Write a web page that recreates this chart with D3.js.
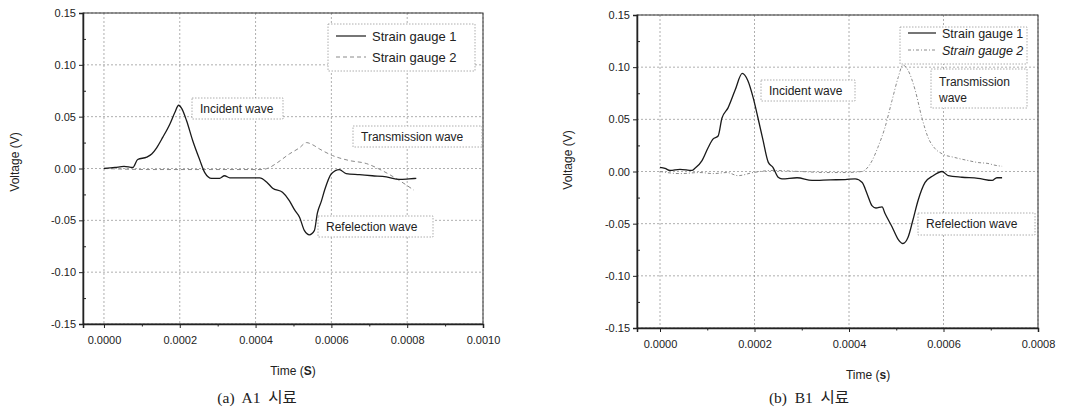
<!DOCTYPE html>
<html>
<head>
<meta charset="utf-8">
<script src="https://cdn.jsdelivr.net/npm/d3@7"></script>
<style>
  html, body { margin: 0; padding: 0; background: #fff; }
  svg { display: block; }
  text { font-family: "Liberation Sans", Arial, sans-serif; fill: #222; }
  .caption { white-space: pre; }
</style>
</head>
<body>
<svg id="chart" width="1090" height="416"></svg>
<script>
// ---------- Data (A1 specimen) ----------
const a1Gauge1Time = [0, 0.000029, 0.000053, 0.000076, 0.000089, 0.000113, 0.000126, 0.000139, 0.000155, 0.000174, 0.000187, 0.000197, 0.000205, 0.000218, 0.000234, 0.000253, 0.000266, 0.000284, 0.000305, 0.000318, 0.000332, 0.000371, 0.000411, 0.000429, 0.000445, 0.000471, 0.000489, 0.000503, 0.000516, 0.000529, 0.000542, 0.000555, 0.000563, 0.000574, 0.000582, 0.000600, 0.000621, 0.000639, 0.000674, 0.000708, 0.000745, 0.000779, 0.000805, 0.000824];
const a1Gauge1Volt = [0.000, 0.001, 0.002, 0.001, 0.0087, 0.011, 0.014, 0.020, 0.030, 0.043, 0.054, 0.061, 0.058, 0.046, 0.027, 0.008, -0.004, -0.0096, -0.0096, -0.007, -0.009, -0.009, -0.009, -0.013, -0.019, -0.023, -0.031, -0.040, -0.047, -0.060, -0.064, -0.060, -0.043, -0.031, -0.021, -0.005, -0.001, -0.005, -0.006, -0.007, -0.008, -0.0105, -0.010, -0.0095];
const a1Gauge2Time = [0, 0.000121, 0.000253, 0.000332, 0.000418, 0.000437, 0.000455, 0.000489, 0.000516, 0.000534, 0.000550, 0.000568, 0.000603, 0.000647, 0.000692, 0.000734, 0.000779, 0.000818];
const a1Gauge2Volt = [0.000, -0.001, -0.001, -0.001, -0.001, 0.001, 0.005, 0.014, 0.020, 0.025, 0.023, 0.019, 0.0125, 0.0077, 0.0048, -0.002, -0.0115, -0.021];

// ---------- Data (B1 specimen) ----------
const b1Gauge1Time = [0, 0.0000106, 0.0000212, 0.0000423, 0.0000677, 0.000074, 0.0000889, 0.000102, 0.000112, 0.000123, 0.000131, 0.000144, 0.000159, 0.000174, 0.000186, 0.000197, 0.000207, 0.000218, 0.000229, 0.000239, 0.000250, 0.000258, 0.000290, 0.000322, 0.000360, 0.000392, 0.000413, 0.000428, 0.000438, 0.000449, 0.000457, 0.000470, 0.000476, 0.000491, 0.000504, 0.000514, 0.000525, 0.000535, 0.000546, 0.000561, 0.000578, 0.000597, 0.000610, 0.000639, 0.000673, 0.000703, 0.000713, 0.000724];
const b1Gauge1Volt = [0.004, 0.003, 0.001, 0.002, 0.001, 0.003, 0.0105, 0.023, 0.031, 0.034, 0.051, 0.061, 0.078, 0.094, 0.087, 0.071, 0.052, 0.030, 0.009, 0.004, -0.0055, -0.007, -0.006, -0.0086, -0.008, -0.0077, -0.007, -0.0105, -0.021, -0.033, -0.035, -0.034, -0.040, -0.053, -0.065, -0.069, -0.063, -0.047, -0.028, -0.0105, -0.004, 0.000, -0.004, -0.0055, -0.0065, -0.0086, -0.006, -0.006];
const b1Gauge2Time = [0, 0.0000423, 0.0000847, 0.000112, 0.000142, 0.000165, 0.000197, 0.000239, 0.000296, 0.000353, 0.000392, 0.000427, 0.000449, 0.000461, 0.000476, 0.000491, 0.000504, 0.000514, 0.000525, 0.000540, 0.000554, 0.000567, 0.000582, 0.000597, 0.000624, 0.000652, 0.000673, 0.000694, 0.000709, 0.000724];
const b1Gauge2Volt = [0.000, -0.002, -0.001, -0.002, -0.001, -0.004, -0.001, 0.001, 0.000, -0.001, -0.001, 0.000, 0.0105, 0.023, 0.042, 0.068, 0.090, 0.102, 0.097, 0.078, 0.052, 0.033, 0.022, 0.017, 0.0134, 0.0105, 0.0086, 0.0077, 0.006, 0.005];

// ---------- Tick labels ----------
const yTicks = [-0.15, -0.10, -0.05, 0.00, 0.05, 0.10, 0.15];
const xTicksA = [0, 0.0002, 0.0004, 0.0006, 0.0008, 0.0010];
const xTicksB = [0, 0.0002, 0.0004, 0.0006, 0.0008];
const legendLabels = ["Strain gauge 1", "Strain gauge 2"];

const svg = d3.select("#chart");
const fmtX = d3.format(".4f");
const fmtY = v => d3.format(".2f")(v).replace("\u2212", "-");

function drawPanel(cfg) {
  const g = svg.append("g");
  const x = d3.scaleLinear().domain(cfg.xDomain).range([cfg.left, cfg.right]);
  const y = d3.scaleLinear().domain([-0.15, 0.15]).range([cfg.bottom, cfg.top]);

  // grid
  const grid = g.append("g").attr("stroke", "#9a9a9a").attr("stroke-width", 0.8).attr("stroke-dasharray", "2,2");
  cfg.xTicks.forEach(t => {
    grid.append("line").attr("x1", x(t)).attr("x2", x(t)).attr("y1", cfg.top).attr("y2", cfg.bottom);
  });
  yTicks.forEach(t => {
    grid.append("line").attr("x1", cfg.left).attr("x2", cfg.right).attr("y1", y(t)).attr("y2", y(t));
  });

  // lines
  const line = d3.line().x(d => x(d[0])).y(d => y(d[1])).curve(d3.curveMonotoneX);
  const s2 = cfg.t2.map((t, i) => [t, cfg.v2[i]]);
  const s1 = cfg.t1.map((t, i) => [t, cfg.v1[i]]);
  g.append("path").datum(s2).attr("d", line).attr("fill", "none")
    .attr("stroke", "#8a8a8a").attr("stroke-width", 1).attr("stroke-dasharray", cfg.dash2);
  g.append("path").datum(s1).attr("d", line).attr("fill", "none")
    .attr("stroke", "#1a1a1a").attr("stroke-width", 1.3);

  // frame
  g.append("rect").attr("x", cfg.left).attr("y", cfg.top)
    .attr("width", cfg.right - cfg.left).attr("height", cfg.bottom - cfg.top)
    .attr("fill", "none").attr("stroke", "#333").attr("stroke-width", 1);

  // axes
  const xMinor = d3.range(cfg.xTicks.length - 1).map(i => (cfg.xTicks[i] + cfg.xTicks[i + 1]) / 2);
  const yMinor = d3.range(yTicks.length - 1).map(i => (yTicks[i] + yTicks[i + 1]) / 2);

  const xAxis = g.append("g").attr("transform", `translate(0,${cfg.bottom})`)
    .call(d3.axisBottom(x).tickValues(cfg.xTicks).tickFormat(fmtX).tickSize(4).tickPadding(8));
  g.append("g").attr("transform", `translate(0,${cfg.bottom})`)
    .call(d3.axisBottom(x).tickValues(xMinor).tickFormat("").tickSize(2.5))
    .call(a => a.select(".domain").remove());
  const yAxis = g.append("g").attr("transform", `translate(${cfg.left},0)`)
    .call(d3.axisLeft(y).tickValues(yTicks).tickFormat(fmtY).tickSize(4).tickPadding(3));
  g.append("g").attr("transform", `translate(${cfg.left},0)`)
    .call(d3.axisLeft(y).tickValues(yMinor).tickFormat("").tickSize(-3))
    .call(a => a.select(".domain").remove());

  [xAxis, yAxis].forEach(a => {
    a.select(".domain").attr("stroke", "#222").attr("stroke-width", 1.5);
    a.selectAll(".tick text").attr("font-size", 11).attr("fill", "#333");
  });
  g.selectAll(".tick line").attr("stroke", "#222");

  // axis titles
  const xt = g.append("text").attr("x", cfg.xTitleX).attr("y", cfg.bottom + 51)
    .attr("text-anchor", "middle").attr("font-size", 12);
  xt.append("tspan").text("Time (");
  xt.append("tspan").attr("font-weight", "bold").text(cfg.unit);
  xt.append("tspan").text(")");

  g.append("text").attr("transform", `translate(${cfg.yTitleX},${cfg.yTitleY}) rotate(-90)`)
    .attr("text-anchor", "middle").attr("font-size", 12).text("Voltage (V)");

  // caption
  g.append("text").attr("class", "caption").attr("x", cfg.captionX).attr("y", 403).attr("text-anchor", "middle")
    .attr("font-size", 15.5).style("font-family", "'Liberation Serif', 'Noto Sans CJK KR', serif")
    .attr("fill", "#111").text(cfg.caption);

  // legend
  const lg = g.append("g");
  lg.append("rect").attr("x", cfg.legend.x).attr("y", cfg.legend.y).attr("width", cfg.legend.w).attr("height", cfg.legend.h)
    .attr("fill", "#fff").attr("stroke", "#999").attr("stroke-width", 0.8).attr("stroke-dasharray", "1.5,1.5");
  legendLabels.forEach((lab, i) => {
    const yy = cfg.legend.y + cfg.legend.row0 + i * cfg.legend.dy;
    lg.append("line").attr("x1", cfg.legend.x + 8).attr("x2", cfg.legend.x + 8 + cfg.legend.sw)
      .attr("y1", yy).attr("y2", yy)
      .attr("stroke", i === 0 ? "#1a1a1a" : "#8a8a8a").attr("stroke-width", i === 0 ? 1.2 : 1)
      .attr("stroke-dasharray", i === 0 ? null : cfg.dash2);
    lg.append("text").attr("x", cfg.legend.x + 14 + cfg.legend.sw).attr("y", yy).attr("dy", "0.36em")
      .attr("font-size", cfg.legend.fs).attr("font-style", (i === 1 && cfg.italic2) ? "italic" : "normal")
      .text(lab);
  });

  // annotations
  cfg.notes.forEach(n => {
    g.append("rect").attr("x", n.x).attr("y", n.y).attr("width", n.w).attr("height", n.h)
      .attr("fill", "#fff").attr("stroke", "#999").attr("stroke-width", 0.8).attr("stroke-dasharray", "1.5,1.5");
    n.lines.forEach((txt, i) => {
      g.append("text").attr("x", n.x + 8).attr("y", n.y + n.ty + i * 16).attr("dy", "0.36em")
        .attr("font-size", 12).attr("fill", "#222").text(txt);
    });
  });
}

drawPanel({
  left: 83, right: 483, top: 13, bottom: 324,
  xDomain: [-0.0000553, 0.0010],
  xTicks: xTicksA,
  t1: a1Gauge1Time, v1: a1Gauge1Volt, t2: a1Gauge2Time, v2: a1Gauge2Volt,
  dash2: "4,3",
  unit: "S", xTitleX: 293, yTitleX: 19, yTitleY: 162,
  caption: "(a)  A1  시료", captionX: 257,
  legend: { x: 328, y: 24, w: 147, h: 47, row0: 12, dy: 21, sw: 30, fs: 13 },
  italic2: false,
  notes: [
    { x: 192, y: 98, w: 91, h: 21, ty: 11, lines: ["Incident wave"] },
    { x: 353, y: 126, w: 129, h: 21, ty: 11, lines: ["Transmission wave"] },
    { x: 318, y: 216, w: 115, h: 21, ty: 11, lines: ["Refelection wave"] }
  ]
});

drawPanel({
  left: 637, right: 1038, top: 15, bottom: 328,
  xDomain: [-0.0000487, 0.0008],
  xTicks: xTicksB,
  t1: b1Gauge1Time, v1: b1Gauge1Volt, t2: b1Gauge2Time, v2: b1Gauge2Volt,
  dash2: "3,2,1,2",
  unit: "s", xTitleX: 868, yTitleX: 572, yTitleY: 160,
  caption: "(b)  B1  시료", captionX: 809,
  legend: { x: 900, y: 27, w: 127, h: 37, row0: 6, dy: 17, sw: 28, fs: 12.5 },
  italic2: true,
  notes: [
    { x: 761, y: 80, w: 94, h: 21, ty: 11, lines: ["Incident wave"] },
    { x: 931, y: 69, w: 96, h: 39, ty: 13, lines: ["Transmission", "wave"] },
    { x: 918, y: 213, w: 117, h: 22, ty: 11, lines: ["Refelection wave"] }
  ]
});
</script>
</body>
</html>
